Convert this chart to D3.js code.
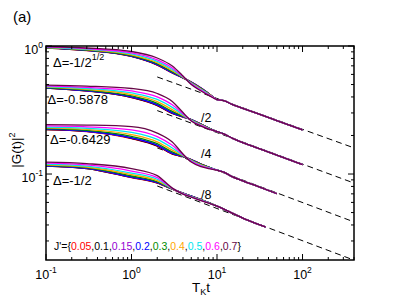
<!DOCTYPE html>
<html>
<head>
<meta charset="utf-8">
<script src="https://cdn.jsdelivr.net/npm/d3@7"></script>
<style>
  body { margin: 0; background: #fff; }
  text { font-family: "Liberation Sans", Arial, sans-serif; fill: #000; }
</style>
</head>
<body>
<div id="chart"></div>
<script>
// sample times T_K t for the early part of every curve
const headTimes = [0.1, 0.3, 1, 2, 3, 4, 5, 6.5, 8];

const jValues = ["0.05", "0.1", "0.15", "0.2", "0.3", "0.4", "0.5", "0.6", "0.7"];
const jColors = ["#ff0000", "#000000", "#9400d3", "#0000ff", "#008b00", "#ffa500", "#00e5ee", "#ff00ff", "#670748"];

// |G(t)|^2 before the /2, /4, /8 offsets; one row per J'
const g1Head = [
  [0.965, 0.922, 0.828, 0.710, 0.615, 0.562, 0.523, 0.470, 0.426],
  [0.965, 0.923, 0.829, 0.712, 0.617, 0.563, 0.523, 0.469, 0.425],
  [0.966, 0.924, 0.832, 0.715, 0.619, 0.563, 0.522, 0.469, 0.425],
  [0.967, 0.926, 0.834, 0.718, 0.621, 0.564, 0.521, 0.468, 0.424],
  [0.969, 0.930, 0.841, 0.727, 0.629, 0.566, 0.519, 0.465, 0.423],
  [0.973, 0.936, 0.853, 0.741, 0.641, 0.569, 0.516, 0.462, 0.421],
  [0.978, 0.944, 0.867, 0.758, 0.656, 0.573, 0.511, 0.457, 0.418],
  [0.984, 0.953, 0.884, 0.779, 0.674, 0.577, 0.506, 0.452, 0.415],
  [0.991, 0.965, 0.906, 0.806, 0.698, 0.583, 0.500, 0.445, 0.411]
];
const g2Head = [
  [0.939, 0.890, 0.792, 0.685, 0.594, 0.557, 0.533, 0.491, 0.457],
  [0.940, 0.891, 0.794, 0.688, 0.596, 0.558, 0.533, 0.491, 0.457],
  [0.942, 0.894, 0.798, 0.693, 0.600, 0.560, 0.532, 0.491, 0.457],
  [0.943, 0.896, 0.802, 0.697, 0.604, 0.561, 0.532, 0.490, 0.457],
  [0.948, 0.904, 0.815, 0.713, 0.617, 0.566, 0.530, 0.488, 0.456],
  [0.956, 0.917, 0.835, 0.736, 0.637, 0.572, 0.528, 0.486, 0.455],
  [0.965, 0.931, 0.860, 0.765, 0.663, 0.581, 0.526, 0.482, 0.453],
  [0.977, 0.950, 0.891, 0.802, 0.695, 0.591, 0.522, 0.479, 0.451],
  [0.991, 0.973, 0.931, 0.851, 0.737, 0.604, 0.519, 0.474, 0.449]
];
const g3Head = [
  [0.890, 0.858, 0.757, 0.661, 0.573, 0.547, 0.519, 0.478, 0.453],
  [0.891, 0.860, 0.760, 0.664, 0.575, 0.548, 0.518, 0.478, 0.453],
  [0.894, 0.863, 0.765, 0.669, 0.579, 0.549, 0.517, 0.477, 0.453],
  [0.896, 0.866, 0.770, 0.674, 0.583, 0.549, 0.517, 0.477, 0.452],
  [0.904, 0.877, 0.787, 0.690, 0.595, 0.552, 0.514, 0.475, 0.451],
  [0.917, 0.892, 0.813, 0.714, 0.615, 0.556, 0.511, 0.471, 0.449],
  [0.931, 0.911, 0.845, 0.745, 0.639, 0.560, 0.507, 0.467, 0.447],
  [0.950, 0.935, 0.886, 0.784, 0.670, 0.566, 0.502, 0.463, 0.444],
  [0.973, 0.965, 0.939, 0.835, 0.711, 0.573, 0.496, 0.457, 0.441]
];
const g4Head = [
  [0.922, 0.882, 0.750, 0.679, 0.610, 0.567, 0.538, 0.505, 0.478],
  [0.924, 0.883, 0.752, 0.681, 0.610, 0.567, 0.537, 0.505, 0.478],
  [0.926, 0.886, 0.756, 0.684, 0.610, 0.567, 0.537, 0.504, 0.478],
  [0.928, 0.888, 0.760, 0.687, 0.611, 0.567, 0.537, 0.504, 0.478],
  [0.934, 0.896, 0.772, 0.696, 0.612, 0.566, 0.536, 0.503, 0.478],
  [0.944, 0.908, 0.791, 0.710, 0.613, 0.564, 0.534, 0.502, 0.477],
  [0.957, 0.923, 0.814, 0.728, 0.615, 0.562, 0.533, 0.500, 0.476],
  [0.972, 0.942, 0.844, 0.750, 0.618, 0.560, 0.531, 0.498, 0.475],
  [0.991, 0.965, 0.882, 0.777, 0.621, 0.557, 0.528, 0.496, 0.474]
];

// long-time part, where all J' curves lie on top of each other
const g1TailT = [10, 12, 15, 20, 30, 50, 100];
const g1Tail  = [0.382, 0.375, 0.350, 0.326, 0.296, 0.261, 0.221];
const g2TailT = [10, 12, 15, 20, 30, 50, 100];
const g2Tail  = [0.429, 0.411, 0.382, 0.352, 0.319, 0.281, 0.237];
const g3TailT = [10, 12, 15, 20, 30, 50];
const g3Tail  = [0.429, 0.414, 0.382, 0.354, 0.320, 0.281];
const g4TailT = [10, 12, 15, 20, 30, 37];
const g4Tail  = [0.449, 0.426, 0.396, 0.362, 0.325, 0.308];

// power-law guides (dashed), end points before the offsets
const dashT = [2, 400];
const dashG = [[0.573, 0.160], [0.626, 0.170], [0.640, 0.169], [0.645, 0.170]];

const divisors = [1, 2, 4, 8];
const divLabels = ["", "/2", "/4", "/8"];
const deltaLabels = ["Δ=-1/2", "Δ=-0.5878", "Δ=-0.6429", "Δ=-1/2"];

const xMajor = [0.1, 1, 10, 100];
const xExp = ["-1", "0", "1", "2"];
const yMajor = [0.1, 1];
const yExp = ["-1", "0"];

const W = 399, H = 308;
const L = 46, R = 354, T = 46, B = 260;

const svg = d3.select("#chart").append("svg")
  .attr("width", W).attr("height", H);

const x = d3.scaleLog().domain([0.1, 400]).range([L, R]);
const y = d3.scaleLog().domain([0.0213, 1]).range([B, T]);

svg.append("clipPath").attr("id", "clip")
  .append("rect").attr("x", L).attr("y", T).attr("width", R - L).attr("height", B - T);

const plot = svg.append("g").attr("clip-path", "url(#clip)");

// dashed guides
dashG.forEach((g, k) => {
  plot.append("line")
    .attr("x1", x(dashT[0])).attr("y1", y(g[0] / divisors[k]))
    .attr("x2", x(dashT[1])).attr("y2", y(g[1] / divisors[k]))
    .attr("stroke", "#000").attr("stroke-width", 1)
    .attr("stroke-dasharray", "6,4");
});

const line = d3.line()
  .x(d => x(d[0]))
  .y(d => y(d[1]))
  .curve(d3.curveMonotoneX);

const groups = [
  { head: g1Head, tt: g1TailT, tail: g1Tail },
  { head: g2Head, tt: g2TailT, tail: g2Tail },
  { head: g3Head, tt: g3TailT, tail: g3Tail },
  { head: g4Head, tt: g4TailT, tail: g4Tail }
];

groups.forEach((grp, k) => {
  grp.head.forEach((row, j) => {
    const pts = headTimes.map((t, i) => [t, row[i] / divisors[k]])
      .concat(grp.tt.map((t, i) => [t, grp.tail[i] / divisors[k]]));
    plot.append("path")
      .datum(pts)
      .attr("d", line)
      .attr("fill", "none")
      .attr("stroke", jColors[j])
      .attr("stroke-width", 1.3);
  });
});

// ticks, inward on all four sides
const xt = x.ticks();
const yt = y.ticks();
const isMajor = v => Math.abs(Math.log10(v) - Math.round(Math.log10(v))) < 1e-6;
const ax = svg.append("g").attr("stroke", "#000").attr("stroke-width", 1);

xt.forEach(v => {
  const len = isMajor(v) ? 6 : 3;
  const px = x(v);
  ax.append("line").attr("x1", px).attr("x2", px).attr("y1", B).attr("y2", B - len);
  ax.append("line").attr("x1", px).attr("x2", px).attr("y1", T).attr("y2", T + len);
});
yt.forEach(v => {
  const len = isMajor(v) ? 6 : 3;
  const py = y(v);
  ax.append("line").attr("y1", py).attr("y2", py).attr("x1", L).attr("x2", L + len);
  ax.append("line").attr("y1", py).attr("y2", py).attr("x1", R).attr("x2", R - len);
});

svg.append("rect")
  .attr("x", L).attr("y", T).attr("width", R - L).attr("height", B - T)
  .attr("fill", "none").attr("stroke", "#000").attr("stroke-width", 1.5);

// tick labels
xMajor.forEach((v, i) => {
  const t = svg.append("text")
    .attr("x", x(v)).attr("y", 278.5)
    .attr("text-anchor", "middle").attr("font-size", 12.5);
  t.append("tspan").text("10");
  t.append("tspan").attr("dy", -6).attr("font-size", 8.5).text(xExp[i]);
});
yMajor.forEach((v, i) => {
  const t = svg.append("text")
    .attr("x", 43).attr("y", y(v) + 7.5)
    .attr("text-anchor", "end").attr("font-size", 12.5);
  t.append("tspan").text("10");
  t.append("tspan").attr("dy", -6).attr("font-size", 8.5).text(yExp[i]);
});

// axis titles
const xt1 = svg.append("text").attr("x", 201).attr("y", 292)
  .attr("text-anchor", "middle").attr("font-size", 13.5);
xt1.append("tspan").text("T");
xt1.append("tspan").attr("dy", 3).attr("font-size", 9).text("K");
xt1.append("tspan").attr("dy", -3).text("t");

const yt1 = svg.append("text")
  .attr("transform", "translate(20.5,150) rotate(-90)")
  .attr("text-anchor", "middle").attr("font-size", 13.5);
yt1.append("tspan").text("|G(t)|");
yt1.append("tspan").attr("dy", -6).attr("font-size", 9).text("2");

svg.append("text").attr("x", 13).attr("y", 22).attr("font-size", 15).text("(a)");

// Δ labels
const deltaPos = [[53, 66.5], [47.5, 103.5], [50, 144], [53, 185]];
deltaLabels.forEach((s, k) => {
  const t = svg.append("text")
    .attr("x", deltaPos[k][0]).attr("y", deltaPos[k][1])
    .attr("font-size", 13);
  t.append("tspan").text(s);
  if (k === 0) t.append("tspan").attr("dy", -7).attr("font-size", 9).text("1/2");
});

// offset labels
const divPos = [null, [201, 122], [201, 158], [201, 199]];
divLabels.forEach((s, k) => {
  if (!s) return;
  svg.append("text").attr("x", divPos[k][0]).attr("y", divPos[k][1])
    .attr("font-size", 12.5).text(s);
});

// J' legend
const leg = svg.append("text").attr("x", 54).attr("y", 250).attr("font-size", 10.5);
leg.append("tspan").text("J'={");
jValues.forEach((v, j) => {
  if (j > 0) leg.append("tspan").text(",");
  leg.append("tspan").style("fill", jColors[j]).text(v);
});
leg.append("tspan").text("}");
</script>
</body>
</html>
